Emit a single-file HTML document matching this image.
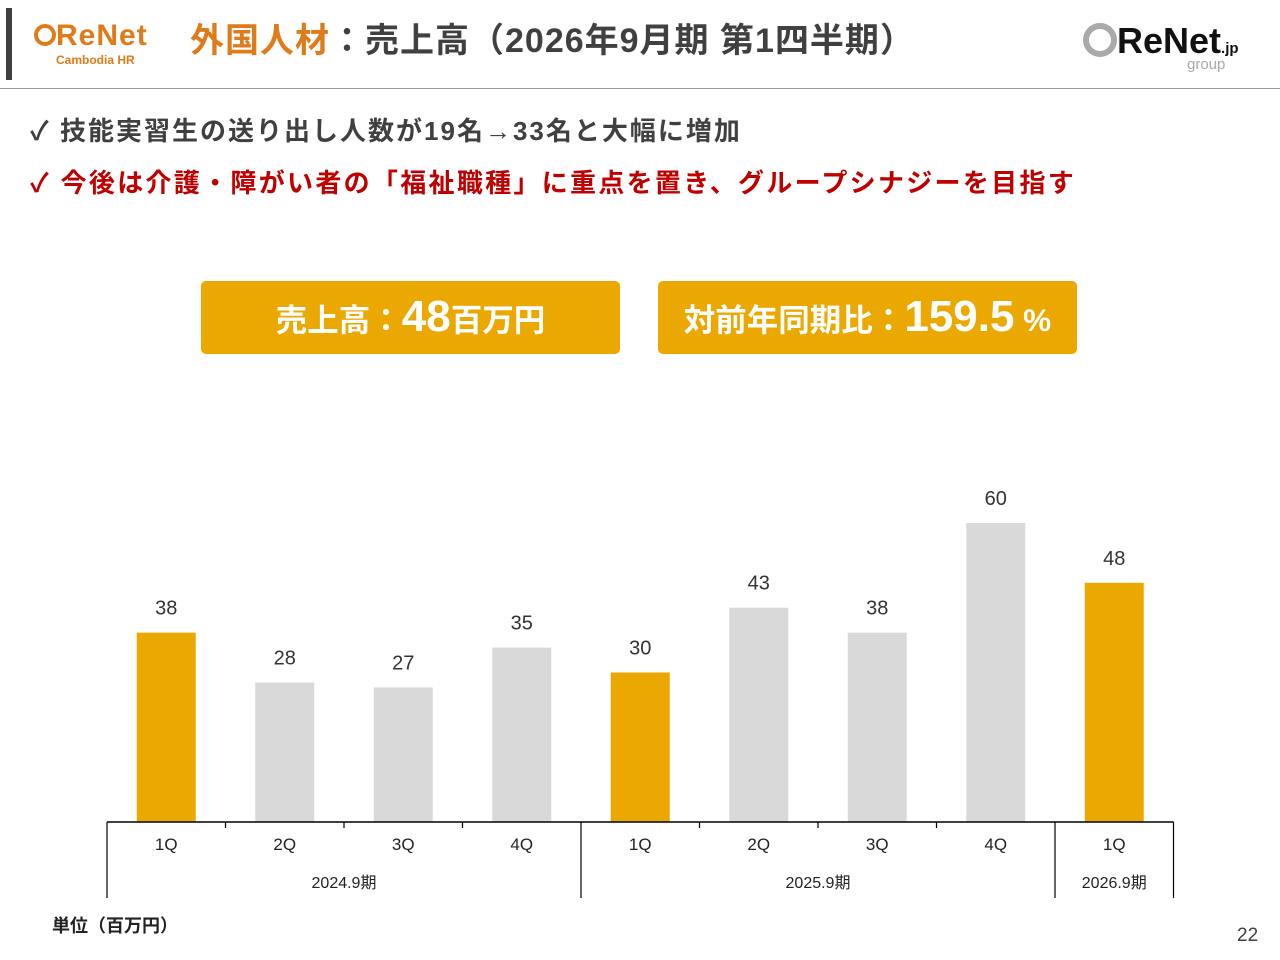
<!DOCTYPE html>
<html><head><meta charset="utf-8"><style>
body{margin:0;width:1280px;height:960px;background:#fff;font-family:"Liberation Sans","Noto Sans CJK JP",sans-serif;position:relative;overflow:hidden}
.a{position:absolute;white-space:nowrap}
</style></head><body>
<div class="a" style="left:6px;top:8px;width:6px;height:72px;background:#404040"></div>
<div class="a" style="left:34px;top:21px;color:#e07b1a;font-weight:bold;font-size:30px;line-height:30px;letter-spacing:1px">
<span style="display:inline-block;width:22px;height:22px;border:4px solid #e07b1a;border-radius:50%;box-sizing:border-box;vertical-align:-1px"></span>ReNet</div>
<div class="a" style="left:56px;top:53px;color:#e07b1a;font-size:12px;font-weight:bold">Cambodia HR</div>
<div class="a" style="left:190px;top:21px;font-size:34px;font-weight:bold;color:#404040;line-height:40px;letter-spacing:1px"><span style="color:#e07b1a">外国人材</span>：売上高（2026年9月期 第1四半期）</div>
<div class="a" style="left:1083px;top:21px;font-size:36px;font-weight:bold;color:#111;line-height:40px">
<span style="display:inline-block;width:34px;height:34px;border:6px solid #aaa;border-radius:50%;box-sizing:border-box;vertical-align:-4px"></span>ReNet<span style="font-size:15px">.jp</span></div>
<div class="a" style="left:1187px;top:56px;font-size:15px;color:#aaa">group</div>
<div class="a" style="left:0;top:88px;width:1280px;height:1px;background:#999"></div>
<div class="a" style="left:30px;top:111px;font-size:26px;font-weight:bold;color:#404040;letter-spacing:2px">✓ 技能実習生の送り出し人数が19名→33名と大幅に増加</div>
<div class="a" style="left:30px;top:163px;font-size:26px;font-weight:bold;color:#c00000;letter-spacing:2.3px">✓ 今後は介護・障がい者の「福祉職種」に重点を置き、グループシナジーを目指す</div>
<div class="a" style="left:201px;top:281px;width:419px;height:73px;background:#eba800;border-radius:5px;color:#fff;font-weight:bold;font-size:31.5px;text-align:center;line-height:71px">売上高：<span style="font-size:44px">48</span>百万円</div>
<div class="a" style="left:658px;top:281px;width:419px;height:73px;background:#eba800;border-radius:5px;color:#fff;font-weight:bold;font-size:31.5px;text-align:center;line-height:71px">対前年同期比：<span style="font-size:44px">159.5</span> %</div>
<svg class="a" style="left:0;top:0" width="1280" height="960" id="chart"></svg>
<div class="a" style="left:52px;top:912px;font-size:18px;font-weight:bold;color:#222">単位（百万円）</div>
<div class="a" style="left:1237px;top:925px;font-size:19px;color:#404040">22</div>
<script>
const categories=["1Q","2Q","3Q","4Q","1Q","2Q","3Q","4Q","1Q"];
const values=[38,28,27,35,30,43,38,60,48];
const highlight=[true,false,false,false,true,false,false,false,true];
const years=["2024.9期","2025.9期","2026.9期"];
const yearSpans=[[0,4],[4,8],[8,9]];
const svg=document.getElementById('chart');
const NS='http://www.w3.org/2000/svg';
const x0=107,step=118.5,base=822,scale=299/60,bw=59;
const xc=i=>x0+step*(i+0.5);
const y=v=>base-v*scale;
function mk(t,a){const e=document.createElementNS(NS,t);for(const k in a)e.setAttribute(k,a[k]);svg.appendChild(e);return e;}
values.forEach((v,i)=>{
 const r=mk('rect',{x:xc(i)-bw/2,y:y(v),width:bw,height:v*scale,fill:highlight[i]?'#eba800':'#d9d9d9'});
 
 
 const t=mk('text',{x:xc(i),y:y(v)-18,'text-anchor':'middle','font-size':20,fill:'#333'});
 t.textContent=v;
 
 
 const c=mk('text',{x:xc(i),y:850,'text-anchor':'middle','font-size':17,fill:'#222'});
 c.textContent=categories[i];
 
 
});
const ax=mk('line',{x1:x0,x2:x0+step*values.length,y1:base,y2:base,stroke:'#000','stroke-width':1.5});


const longs=new Set();yearSpans.forEach(s=>{longs.add(s[0]);longs.add(s[1]);});
for(let i=0;i<=values.length;i++){
 const tk=mk('line',{x1:x0+step*i,x2:x0+step*i,y1:base,y2:longs.has(i)?898:828,stroke:'#000','stroke-width':1.2});
 
 
}
yearSpans.forEach((s,j)=>{
 const t=mk('text',{x:x0+step*(s[0]+s[1])/2,y:888,'text-anchor':'middle','font-size':16,fill:'#222'});
 t.textContent=years[j];
 
 
});
</script>
</body></html>
